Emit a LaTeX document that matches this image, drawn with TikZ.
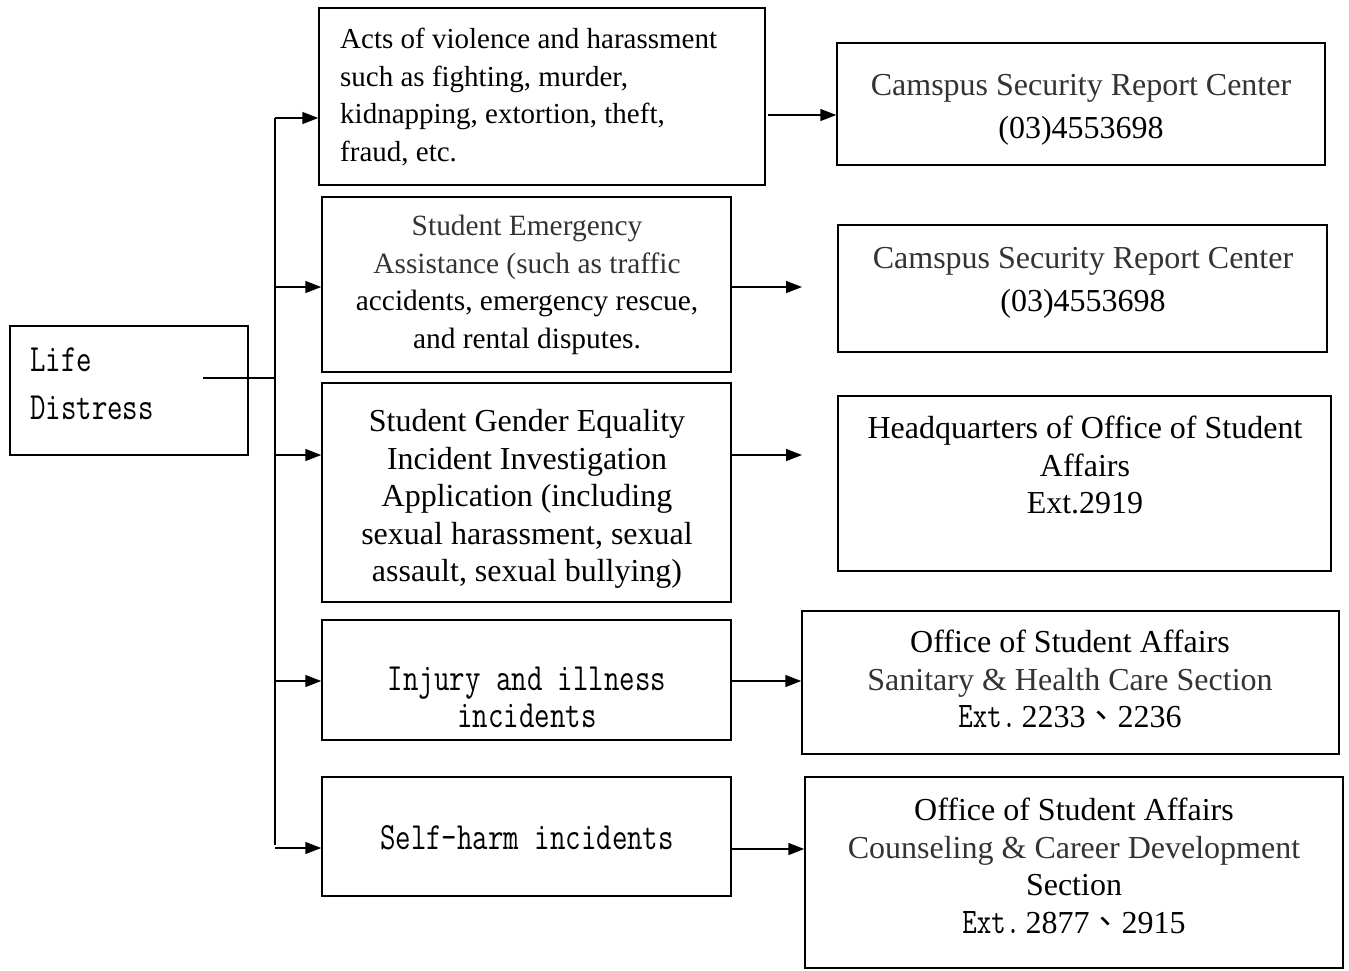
\documentclass[tikz,border=0pt]{standalone}
\usepackage{fontspec}
\setmainfont{Liberation Serif}
\newfontfamily\mono{Latin Modern Mono}[FakeStretch=0.78]
\newfontfamily\cjk{Noto Sans CJK TC}
\usetikzlibrary{arrows.meta}
\definecolor{tgray}{HTML}{333333}
\tikzset{
  box/.style={draw=black, line width=1.5pt, rectangle, inner sep=0pt},
  txt/.style={inner sep=0pt, align=center, font={\fontsize{29.4}{37.5}\selectfont}},
  txtl/.style={inner sep=0pt, align=center, font={\fontsize{32}{37.5}\selectfont}},
  txtbig/.style={inner sep=0pt, align=center, font={\fontsize{32}{43}\selectfont}},
  txtmono/.style={inner sep=0pt, align=center, font={\mono\fontsize{38.5}{37}\selectfont}},
  conn/.style={line width=1.5pt},
  arr/.style={line width=1.5pt, -{Triangle[length=16pt,width=12pt]}}
}
\newcommand{\extt}{{\mono\fontsize{36}{37.5}\selectfont Ext.}\,}
\newcommand{\boxat}[5]{\node[box, minimum width=#3-#2, minimum height=#5-#4] (#1) at ({(#2+#3)/2},{(#4+#5)/2}) {};}
\begin{document}
\begin{tikzpicture}[x=1pt,y=-1pt]
\useasboundingbox (0,0) rectangle (1349,970);
% boxes
\boxat{LD}{10}{248}{326}{455}
\boxat{A1}{319}{765}{8}{185}
\boxat{A2}{322}{731}{197}{372}
\boxat{A3}{322}{731}{383}{602}
\boxat{A4}{322}{731}{620}{740}
\boxat{A5}{322}{731}{777}{896}
\boxat{B1}{837}{1325}{43}{165}
\boxat{B2}{838}{1327}{225}{352}
\boxat{B3}{838}{1331}{396}{571}
\boxat{B4}{802}{1339}{611}{754}
\boxat{B5}{805}{1343}{777}{968}
% texts
\node[inner sep=0pt, anchor=west, align=left, font={\mono\fontsize{38.5}{48}\selectfont}] (LDt) at (30,384) {Life\\Distress};
\node[inner sep=0pt, anchor=west, align=left, font={\fontsize{29}{37.5}\selectfont}] (A1t) at (340,97) {Acts of violence and harassment\\such as fighting, murder,\\kidnapping, extortion, theft,\\fraud, etc.};
\node[txt] (A2t) at (527,285) {\textcolor{tgray}{Student Emergency}\\\textcolor{tgray}{Assistance (such as traffic}\\accidents, emergency rescue,\\and rental disputes.};
\node[txtl] (A3t) at (527,499) {Student Gender Equality\\Incident Investigation\\Application (including\\sexual harassment, sexual\\assault, sexual bullying)};
\node[txtmono] (A4t) at (527,697) {Injury and illness\\incidents};
\node[txtmono] (A5t) at (527,838) {Self-harm incidents};
\node[txtbig] (B1t) at (1081,110) {\textcolor{tgray}{Camspus Security Report Center}\\(03)4553698};
\node[txtbig] (B2t) at (1083,283) {\textcolor{tgray}{Camspus Security Report Center}\\(03)4553698};
\node[txtl] (B3t) at (1085,465) {Headquarters of Office of Student\\Affairs\\Ext.2919};
\node[txtl] (B4t) at (1070,679) {Office of Student Affairs\\\textcolor{tgray}{Sanitary \& Health Care Section}\\\extt 2233{\cjk 、}2236};
\node[txtl] (B5t) at (1074,866) {Office of Student Affairs\\\textcolor{tgray}{Counseling \& Career Development}\\Section\\\extt 2877{\cjk 、}2915};
% trunk
\coordinate (ldo) at (203,378);
\coordinate (tj) at (275,378);
\coordinate (t1) at (275,118);
\coordinate (t2) at (275,287);
\coordinate (t3) at (275,455);
\coordinate (t4) at (275,681);
\coordinate (t5) at (275,848);
\coordinate (tb) at (275,845);
\draw[conn] (ldo) -- (tj);
\draw[conn] (t1) -- (tb);
\draw[arr] (t1) -- (t1 -| A1.west);
\draw[arr] (t2) -- (t2 -| A2.west);
\draw[arr] (t3) -- (t3 -| A3.west);
\draw[arr] (t4) -- (t4 -| A4.west);
\draw[arr] (t5) -- (t5 -| A5.west);
% right arrows
\coordinate (r1) at (768,115);
\coordinate (e2) at (802,287);
\coordinate (e3) at (802,455);
\coordinate (r4) at (731,681);
\coordinate (r5) at (731,849);
\draw[arr] (r1) -- (r1 -| B1.west);
\draw[arr] (e2 -| A2.east) -- (e2);
\draw[arr] (e3 -| A3.east) -- (e3);
\draw[arr] (r4) -- (r4 -| B4.west);
\draw[arr] (r5) -- (r5 -| B5.west);
\end{tikzpicture}
\end{document}
